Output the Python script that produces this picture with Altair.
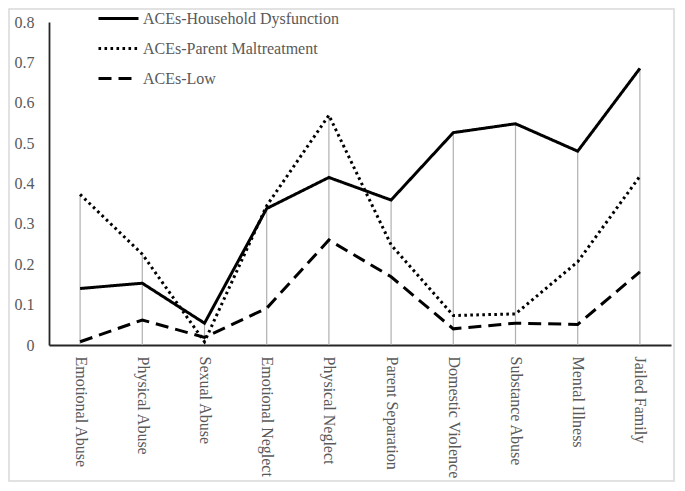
import altair as alt
import pandas as pd

categories = ["Emotional Abuse", "Physical Abuse", "Sexual Abuse", "Emotional Neglect",
              "Physical Neglect", "Parent Separation", "Domestic Violence",
              "Substance Abuse", "Mental Illness", "Jailed Family"]
series_names = ["ACEs-Household Dysfunction", "ACEs-Parent Maltreatment", "ACEs-Low"]
household = [0.140, 0.153, 0.054, 0.338, 0.415, 0.359, 0.526, 0.548, 0.480, 0.685]
maltreatment = [0.373, 0.225, 0.008, 0.345, 0.569, 0.248, 0.073, 0.077, 0.206, 0.418]
low = [0.008, 0.062, 0.019, 0.091, 0.260, 0.169, 0.040, 0.054, 0.051, 0.181]

rows = []
for name, vals in zip(series_names, [household, maltreatment, low]):
    for c, v in zip(categories, vals):
        rows.append({"category": c, "series": name, "value": v})
df = pd.DataFrame(rows)

FONT = "Liberation Serif"
TXT = "#595959"
FS = 16

x_enc = alt.X("category:N", sort=categories,
              scale=alt.Scale(type="point", padding=0.5),
              axis=alt.Axis(title=None, labelAngle=90, labelAlign="left",
                            labelBaseline="middle", labelPadding=11, ticks=False,
                            labelFont=FONT, labelFontSize=FS, labelColor=TXT,
                            domainColor="#262626", domainWidth=1.8))

drops = alt.Chart(df).mark_rule(color="#b0b0b0", strokeWidth=1.2).encode(
    x=x_enc,
    y=alt.Y("max(value):Q"),
    y2=alt.datum(0),
)

lines = alt.Chart(df).mark_line(color="black", strokeWidth=3, strokeCap="butt").encode(
    x=x_enc,
    y=alt.Y("value:Q", scale=alt.Scale(domain=[0, 0.8]),
            axis=alt.Axis(title=None, values=[0, 0.1, 0.2, 0.3, 0.4, 0.5, 0.6, 0.7, 0.8],
                          format="~g", ticks=False, grid=False, labelPadding=15,
                          labelFont=FONT, labelFontSize=FS, labelColor=TXT,
                          domainColor="#262626", domainWidth=1.8)),
    strokeDash=alt.StrokeDash(
        "series:N",
        scale=alt.Scale(domain=series_names, range=[[1, 0], [2.6, 3.4], [13, 7]]),
        legend=alt.Legend(title=None, orient="none", legendX=48, legendY=-25,
                          symbolType="stroke", symbolSize=1600, symbolStrokeWidth=3,
                          symbolStrokeColor="black", labelFont=FONT, labelFontSize=FS,
                          labelColor=TXT, labelOffset=3, rowPadding=-10, labelLimit=0),
    ),
    detail="series:N",
)

border = alt.Chart(pd.DataFrame({"k": [0]})).mark_rect(
    fill=None, stroke="#d9d9d9", strokeWidth=1.5).encode(
    x=alt.value(-40), x2=alt.value(625), y=alt.value(-13), y2=alt.value(459))

chart = alt.layer(border, drops, lines).properties(
    width=622, height=323,
    padding={"left": 41, "top": 14, "right": 4, "bottom": 137},
    autosize=alt.AutoSizeParams(type="none"),
).configure_view(stroke=None)

chart.save("out.html", embed_options={"renderer": "svg", "actions": False})
